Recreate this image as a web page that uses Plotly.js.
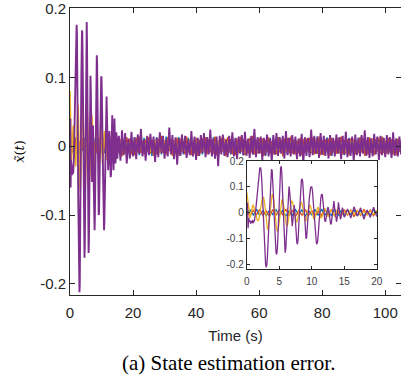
<!DOCTYPE html>
<html>
<head>
<meta charset="utf-8">
<script src="https://cdn.plot.ly/plotly-3.0.1.min.js"></script>
<style>html,body{margin:0;padding:0;background:#fff;}#chart{width:401px;height:379px;}</style>
</head>
<body>
<div id="chart"></div>
<script>
// Sampling grids (s): fine 0.1 s for the transient, 0.5 s afterwards
const fineEnd = 15, fineStep = 0.1, coarseStep = 0.5, tEnd = 105;
function grid(a, b, s) { const n = Math.round((b - a) / s); const o = []; for (let i = 0; i <= n; i++) o.push(+(a + i * s).toFixed(2)); return o; }
const timeFast = grid(0, fineEnd, fineStep).concat(grid(fineEnd + coarseStep, tEnd, coarseStep));
const timeSlow = grid(0, tEnd, coarseStep);

// Series 4 (purple) estimation error
const errPurple = [
 0.0,0.04,-0.06,-0.02,-0.035,-0.03,-0.042,-0.033,-0.04,-0.028,
 -0.04,-0.034,-0.028,-0.01,0.02,0.05,0.08,0.112,0.14,0.16,
 0.172,0.176,0.165,0.13,0.07,0.0,-0.07,-0.13,-0.172,-0.2,
 -0.212,-0.2,-0.16,-0.1,-0.03,0.04,0.1,0.148,0.168,0.165,
 0.13,0.07,0.0,-0.07,-0.122,-0.155,-0.162,-0.14,-0.09,-0.02,
 0.06,0.13,0.172,0.18,0.15,0.08,0.0,-0.08,-0.13,-0.155,
 -0.14,-0.09,-0.02,0.05,0.09,0.102,0.08,0.04,-0.01,-0.04,
 -0.052,-0.03,0.01,0.03,0.0,-0.05,-0.09,-0.115,-0.122,-0.1,
 -0.05,0.01,0.06,0.1,0.125,0.132,0.12,0.08,0.02,-0.04,
 -0.08,-0.1,-0.097,-0.07,-0.03,0.01,0.05,0.08,0.095,0.1,
 0.1,0.085,0.05,0.01,-0.03,-0.07,-0.1,-0.117,-0.122,-0.11,
 -0.08,-0.04,0.0,0.035,0.06,0.07,0.072,0.05,0.02,-0.01,
 -0.03,-0.035,-0.025,-0.005,0.015,0.022,0.012,-0.008,-0.03,-0.045,
 -0.042,-0.025,0.0,0.018,0.045,0.02,0.0,-0.02,-0.035,-0.02,
 0.01,0.04,0.02,-0.005,-0.025,-0.018,0.005,0.02,0.012,-0.01,
 -0.018,
 0.015,-0.021,0.023,-0.013,0.019,-0.025,0.011,-0.018,0.021,-0.015,
 0.013,-0.019,0.017,-0.011,0.025,-0.015,0.009,-0.021,0.015,-0.013,
 0.018,-0.009,0.014,-0.023,0.012,-0.016,0.02,-0.01,0.015,-0.018,
 0.01,-0.015,0.027,-0.012,0.016,-0.019,0.013,-0.027,0.011,-0.014,
 0.017,-0.011,0.015,-0.017,0.009,-0.013,0.022,-0.015,0.014,-0.02,
 0.012,-0.014,0.016,-0.01,0.019,-0.016,0.013,-0.012,0.024,-0.015,
 0.011,-0.018,0.014,-0.029,0.015,-0.012,0.017,-0.014,0.01,-0.016,
 0.015,-0.011,0.02,-0.015,0.012,-0.019,0.014,-0.01,0.016,-0.013,
 0.021,-0.014,0.011,-0.017,0.015,-0.012,0.025,-0.016,0.013,-0.011,
 0.014,-0.02,0.012,-0.013,0.017,-0.015,0.011,-0.023,0.016,-0.012,
 0.019,-0.014,0.013,-0.011,0.015,-0.018,0.022,-0.013,0.012,-0.015,
 0.016,-0.012,0.014,-0.019,0.011,-0.015,0.018,-0.026,0.013,-0.014,
 0.012,-0.016,0.024,-0.013,0.015,-0.011,0.014,-0.017,0.019,-0.012,
 0.015,-0.014,0.011,-0.018,0.016,-0.013,0.012,-0.015,0.017,-0.011,
 0.013,-0.019,0.015,-0.012,0.021,-0.016,0.011,-0.014,0.014,-0.022,
 0.017,-0.013,0.012,-0.015,0.016,-0.011,0.023,-0.014,0.013,-0.017,
 0.011,-0.015,0.018,-0.012,0.014,-0.02,0.015,-0.013,0.012,-0.016,
 0.016,-0.012,0.013,-0.017,0.02,-0.014,0.011,-0.015,0.014,-0.012
];

// Series 3 (yellow)
const errYellow = [
 0.08,0.06,0.03,0.0,-0.015,-0.02,-0.01,0.005,0.02,0.028,
 0.03,0.025,0.015,0.0,-0.012,-0.022,-0.028,-0.03,-0.03,-0.02,
 -0.005,0.015,0.035,0.05,0.058,0.06,0.058,0.045,0.02,-0.01,
 -0.035,-0.055,-0.065,-0.063,-0.05,-0.025,0.005,0.035,0.058,0.07,
 0.07,0.06,0.04,0.01,-0.02,-0.045,-0.063,-0.07,-0.068,-0.055,
 -0.03,-0.005,0.02,0.04,0.05,0.05,0.042,0.025,0.0,-0.02,
 -0.038,-0.048,-0.05,-0.045,-0.03,-0.01,0.01,0.028,0.04,0.045,
 0.043,0.035,0.018,0.0,-0.015,-0.028,-0.035,-0.035,-0.028,-0.015,
 0.0,0.015,0.03,0.038,0.04,0.035,0.022,0.005,-0.012,-0.025,
 -0.03,-0.03,-0.022,-0.01,0.005,0.018,0.027,0.03,0.026,0.015,
 0.002,-0.012,-0.022,-0.025,-0.022,-0.012,0.0,0.012,0.02,0.022,
 0.018,0.008,-0.004,-0.014,-0.02,-0.02,-0.013,-0.003,0.008,0.015,
 0.017,0.012,0.003,-0.007,-0.014,-0.016,-0.012,-0.004,0.005,0.012,
 0.014,0.01,0.002,-0.006,-0.012,-0.013,-0.008,0.0,0.008,0.012,
 0.011,0.005,-0.003,-0.009,-0.011,-0.007,0.0,0.007,0.01,0.008,
 0.002,
 -0.006,0.008,-0.004,0.009,-0.007,0.005,-0.009,0.006,-0.005,0.008,
 0.004,-0.007,0.009,-0.005,0.006,-0.008,0.007,-0.004,0.01,-0.006,
 -0.008,0.005,-0.006,0.009,-0.004,0.007,-0.01,0.006,-0.005,0.008,
 0.006,-0.009,0.004,-0.006,0.008,-0.005,0.011,-0.007,0.005,-0.004,
 -0.005,0.007,-0.008,0.004,-0.006,0.009,-0.005,0.008,-0.007,0.006,
 0.008,-0.005,0.006,-0.009,0.005,-0.007,0.004,-0.006,0.009,-0.008,
 -0.007,0.006,-0.004,0.008,-0.009,0.005,-0.006,0.01,-0.005,0.007,
 0.005,-0.008,0.007,-0.005,0.004,-0.006,0.008,-0.009,0.006,-0.004,
 -0.009,0.004,-0.006,0.007,-0.005,0.008,-0.004,0.006,-0.008,0.005,
 0.007,-0.006,0.005,-0.008,0.009,-0.004,0.006,-0.007,0.005,-0.009,
 -0.004,0.008,-0.007,0.005,-0.006,0.004,-0.009,0.007,-0.005,0.006,
 0.009,-0.005,0.004,-0.007,0.006,-0.008,0.005,-0.004,0.007,-0.006,
 -0.006,0.005,-0.008,0.006,-0.004,0.009,-0.007,0.005,-0.006,0.008,
 0.005,-0.007,0.008,-0.004,0.006,-0.005,0.009,-0.008,0.004,-0.006,
 -0.008,0.006,-0.005,0.007,-0.009,0.004,-0.006,0.008,-0.005,0.007,
 0.006,-0.004,0.009,-0.006,0.005,-0.008,0.004,-0.007,0.006,-0.005,
 -0.005,0.009,-0.006,0.004,-0.007,0.006,-0.008,0.005,-0.004,0.008,
 0.007,-0.008,0.005,-0.006,0.008,-0.004,0.006,-0.009,0.007,-0.005
];

// Series 2 (orange-red)
const errRed = [
 0.004,-0.012,0.01,-0.008,0.013,-0.011,0.007,-0.014,0.012,-0.009,
 0.011,-0.007,0.014,-0.012,0.009,-0.013,0.008,-0.01,0.012,-0.011,
 0.009,-0.014,0.007,-0.01,0.013,-0.008,0.011,-0.012,0.006,-0.013,
 0.012,-0.009,0.01,-0.015,0.008,-0.011,0.013,-0.007,0.011,-0.012,
 0.007,-0.013,0.012,-0.009,0.014,-0.01,0.008,-0.012,0.01,-0.008,
 0.013,-0.011,0.009,-0.014,0.007,-0.012,0.011,-0.009,0.015,-0.01,
 0.008,-0.012,0.013,-0.007,0.01,-0.014,0.009,-0.011,0.012,-0.013,
 0.011,-0.008,0.007,-0.012,0.014,-0.009,0.01,-0.013,0.008,-0.011,
 0.012,-0.014,0.009,-0.01,0.011,-0.007,0.013,-0.012,0.01,-0.009,
 0.009,-0.011,0.014,-0.013,0.008,-0.01,0.012,-0.008,0.011,-0.015,
 0.013,-0.009,0.01,-0.012,0.007,-0.013,0.011,-0.01,0.014,-0.008,
 0.01,-0.013,0.008,-0.011,0.012,-0.009,0.015,-0.012,0.009,-0.01,
 0.012,-0.01,0.011,-0.014,0.009,-0.008,0.013,-0.011,0.007,-0.012,
 0.008,-0.012,0.013,-0.009,0.01,-0.015,0.011,-0.007,0.012,-0.01,
 0.014,-0.011,0.009,-0.012,0.008,-0.01,0.012,-0.013,0.01,-0.009,
 0.011,-0.008,0.012,-0.01,0.013,-0.012,0.007,-0.011,0.014,-0.013,
 0.009,-0.013,0.01,-0.008,0.011,-0.014,0.012,-0.009,0.008,-0.011,
 0.012,-0.01,0.014,-0.012,0.009,-0.011,0.01,-0.013,0.011,-0.008,
 0.01,-0.012,0.008,-0.01,0.013,-0.009,0.011,-0.014,0.009,-0.012,
 0.013,-0.009,0.011,-0.013,0.01,-0.008,0.012,-0.011,0.014,-0.01,
 0.008,-0.011,0.012,-0.009,0.01,-0.012,0.009,-0.013,0.011,-0.008,
 0.006
];

// Series 1 (blue)
const errBlue = [
 -0.003,0.011,-0.009,0.013,-0.01,0.008,-0.012,0.01,-0.007,0.012,
 -0.011,0.009,-0.013,0.007,-0.01,0.012,-0.008,0.011,-0.014,0.009,
 -0.008,0.012,-0.01,0.014,-0.009,0.007,-0.011,0.013,-0.012,0.008,
 -0.013,0.01,-0.007,0.011,-0.012,0.009,-0.014,0.008,-0.01,0.012,
 -0.009,0.013,-0.011,0.008,-0.013,0.011,-0.007,0.012,-0.01,0.014,
 -0.012,0.008,-0.014,0.01,-0.009,0.013,-0.011,0.007,-0.012,0.01,
 -0.01,0.014,-0.008,0.012,-0.011,0.009,-0.013,0.011,-0.008,0.013,
 -0.014,0.009,-0.012,0.008,-0.01,0.012,-0.009,0.014,-0.011,0.007,
 -0.008,0.011,-0.013,0.01,-0.012,0.008,-0.01,0.013,-0.009,0.011,
 -0.011,0.013,-0.009,0.007,-0.014,0.01,-0.008,0.012,-0.013,0.009,
 -0.01,0.008,-0.012,0.014,-0.009,0.011,-0.013,0.008,-0.011,0.012,
 -0.013,0.011,-0.008,0.009,-0.01,0.013,-0.012,0.01,-0.007,0.011,
 -0.009,0.012,-0.011,0.008,-0.014,0.01,-0.009,0.012,-0.01,0.013,
 -0.012,0.009,-0.01,0.013,-0.008,0.011,-0.013,0.009,-0.012,0.008,
 -0.011,0.014,-0.009,0.01,-0.012,0.008,-0.01,0.011,-0.013,0.012,
 -0.008,0.01,-0.013,0.011,-0.009,0.012,-0.011,0.014,-0.01,0.009,
 -0.012,0.008,-0.01,0.013,-0.011,0.009,-0.014,0.01,-0.009,0.011,
 -0.01,0.012,-0.009,0.008,-0.013,0.011,-0.008,0.012,-0.011,0.01,
 -0.013,0.009,-0.011,0.012,-0.01,0.014,-0.009,0.008,-0.012,0.011,
 -0.009,0.011,-0.012,0.01,-0.008,0.013,-0.011,0.009,-0.01,0.012,
 -0.011,0.01,-0.009,0.012,-0.013,0.008,-0.01,0.011,-0.012,0.009,
 -0.004
];

// Tick labels
const mainXTicks = [0, 20, 40, 60, 80, 100];
const mainYTicks = [0.2, 0.1, 0, -0.1, -0.2];
const mainYText = ['0.2', '0.1', '0', '-0.1', '-0.2'];
const insetXTicks = [0, 5, 10, 15, 20];
const insetYTicks = [0.2, 0.1, 0, -0.1, -0.2];
const insetYText = ['0.2', '0.1', '0', '-0.1', '-0.2'];

const colors = { blue: '#0072BD', red: '#D95319', yellow: '#EDB120', purple: '#7E2F8E' };
const seriesList = [
  { t: timeSlow, v: errBlue, c: colors.blue, w: 1.5 },
  { t: timeSlow, v: errRed, c: colors.red, w: 1.5 },
  { t: timeFast, v: errYellow, c: colors.yellow, w: 1.5 },
  { t: timeFast, v: errPurple, c: colors.purple, w: 1.9 }
];

const traces = [];
seriesList.forEach(s => traces.push({ x: s.t, y: s.v, type: 'scatter', mode: 'lines', line: { color: s.c, width: s.w }, xaxis: 'x', yaxis: 'y', hoverinfo: 'skip' }));
seriesList.forEach(s => traces.push({ x: s.t, y: s.v, type: 'scatter', mode: 'lines', line: { color: s.c, width: 1.3 }, xaxis: 'x2', yaxis: 'y2', hoverinfo: 'skip' }));

const axCol = '#262626';
const layout = {
  width: 401, height: 379,
  margin: { l: 70, r: 0, t: 8, b: 84 },
  showlegend: false,
  paper_bgcolor: '#fff', plot_bgcolor: '#fff',
  font: { family: 'Liberation Sans, Arial, sans-serif', color: axCol },
  xaxis: {
    range: [0, 105], domain: [0, 1], anchor: 'y',
    tickvals: mainXTicks, ticks: 'inside', ticklen: 5, tickcolor: axCol,
    showline: true, linecolor: axCol, linewidth: 1, mirror: 'ticks',
    showgrid: false, zeroline: false, ticklabelstandoff: 4, ticklabeloverflow: 'allow',
    tickfont: { size: 15, color: axCol },
    title: { text: 'Time (s)', font: { size: 15, color: axCol }, standoff: 10 }
  },
  yaxis: {
    range: [-0.216, 0.2005], domain: [0, 1], anchor: 'x',
    tickvals: mainYTicks, ticktext: mainYText, ticks: 'inside', ticklen: 5, tickcolor: axCol,
    showline: true, linecolor: axCol, linewidth: 1, mirror: 'ticks',
    showgrid: false, zeroline: false, ticklabeloverflow: 'allow',
    tickfont: { size: 15, color: axCol },
    title: { text: '<i>x̃</i>(<i>t</i>)', font: { size: 13, color: '#000', family: 'DejaVu Serif, serif' }, standoff: 12 }
  },
  xaxis2: {
    range: [0, 20], domain: [0.534, 0.927], anchor: 'y2',
    tickvals: insetXTicks, ticks: 'inside', ticklen: 3, tickcolor: axCol,
    showline: true, linecolor: axCol, linewidth: 1, mirror: 'ticks',
    showgrid: false, zeroline: false, ticklabelstandoff: 3,
    tickfont: { size: 10, color: '#404040' }
  },
  yaxis2: {
    range: [-0.218, 0.2005], domain: [0.0906, 0.4669], anchor: 'x2',
    tickvals: insetYTicks, ticktext: insetYText, ticks: 'inside', ticklen: 3, tickcolor: axCol,
    showline: true, linecolor: axCol, linewidth: 1, mirror: 'ticks',
    showgrid: false, zeroline: false,
    tickfont: { size: 10, color: '#404040' }
  },
  annotations: [{
    text: '(a) State estimation error.', xref: 'paper', yref: 'paper',
    x: 0.48, y: -0.237, xanchor: 'center', yanchor: 'middle', showarrow: false,
    font: { family: 'Liberation Serif, Times New Roman, serif', size: 21, color: '#000' }
  }]
};

Plotly.newPlot('chart', traces, layout, { staticPlot: true, displayModeBar: false });
</script>
</body>
</html>
